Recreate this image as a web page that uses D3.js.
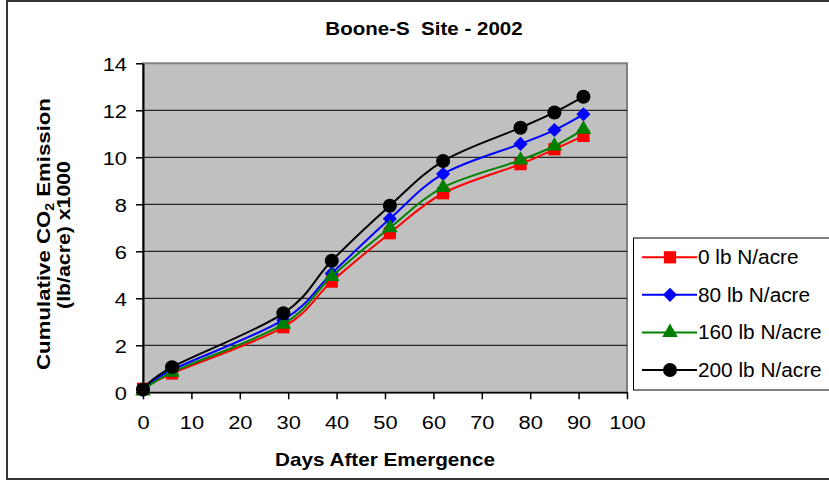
<!DOCTYPE html>
<html>
<head>
<meta charset="utf-8">
<script src="https://cdn.jsdelivr.net/npm/d3@7"></script>
<style>
  body { margin: 0; background: #fff; }
  text { font-family: "Liberation Sans", Arial, sans-serif; }
</style>
</head>
<body>
<svg id="chart" width="829" height="481"></svg>
<script>
// data
const days = [0, 6, 29, 39, 51, 62, 78, 85, 91];
const n0 = [0.15, 0.8, 2.77, 4.71, 6.77, 8.47, 9.71, 10.34, 10.91];
const n80 = [0.1, 0.95, 3.08, 5.06, 7.38, 9.29, 10.57, 11.16, 11.83];
const n160 = [0.05, 0.85, 2.9, 4.93, 7.0, 8.72, 9.88, 10.48, 11.19];
const n200 = [0.12, 1.07, 3.36, 5.6, 7.94, 9.84, 11.26, 11.91, 12.58];
const seriesNames = ['0 lb N/acre', '80 lb N/acre', '160 lb N/acre', '200 lb N/acre'];
const xTicks = [0, 10, 20, 30, 40, 50, 60, 70, 80, 90, 100];
const yTicks = [0, 2, 4, 6, 8, 10, 12, 14];

const series = [
  { name: seriesNames[0], values: n0, color: '#ff0000', shape: 'square' },
  { name: seriesNames[1], values: n80, color: '#0000ff', shape: 'diamond' },
  { name: seriesNames[2], values: n160, color: '#008000', shape: 'triangle' },
  { name: seriesNames[3], values: n200, color: '#000000', shape: 'circle' }
];

const svg = d3.select('#chart');
const plotLeft = 143, plotRight = 627, plotTop = 63.3, plotBottom = 392.3;

// the original font is wider than Arial, so stretch text a bit
function stretch (sel, k) {
  sel.attr('transform', function () {
    const t = this.getAttribute('transform') || '';
    return t + ' scale(' + k + ',1)';
  });
}

function symbolPath (shape) {
  if (shape === 'square') return d3.symbol(d3.symbolSquare, 150)();
  if (shape === 'diamond') return d3.symbol(d3.symbolSquare, 100)();
  if (shape === 'triangle') return d3.symbol(d3.symbolTriangle, 105)();
  return d3.symbol(d3.symbolCircle, 155)();
}

// outer frame
svg.append('rect')
  .attr('x', 7).attr('y', 1).attr('width', 840).attr('height', 478)
  .attr('fill', '#fff').attr('stroke', '#333').attr('stroke-width', 2);

const xScale = d3.scaleLinear().domain([0, 100]).range([plotLeft, plotRight]);
const yScale = d3.scaleLinear().domain([0, 14]).range([plotBottom, plotTop]);

// plot area
svg.append('rect')
  .attr('x', plotLeft).attr('y', plotTop)
  .attr('width', plotRight - plotLeft).attr('height', plotBottom - plotTop)
  .attr('fill', '#c0c0c0').attr('stroke', '#808080').attr('stroke-width', 2);

// gridlines
svg.append('g')
  .selectAll('line')
  .data(yTicks.filter(function (d) { return d > 0 && d < 14; }))
  .enter().append('line')
  .attr('x1', plotLeft).attr('x2', plotRight)
  .attr('y1', function (d) { return yScale(d); })
  .attr('y2', function (d) { return yScale(d); })
  .attr('stroke', '#000').attr('stroke-width', 1);

// axes
const gx = svg.append('g')
  .attr('transform', 'translate(0,' + plotBottom + ')')
  .call(d3.axisBottom(xScale).tickValues(xTicks).tickSize(7).tickSizeOuter(0));
gx.select('.domain').attr('stroke', '#000').attr('stroke-width', 1.5);
gx.selectAll('.tick line').attr('stroke', '#000').attr('stroke-width', 1.5);
gx.selectAll('.tick text')
  .attr('y', 37).attr('dy', null)
  .attr('font-size', 19).attr('fill', '#000')
  .style('font-family', '"Liberation Sans", Arial, sans-serif')
  .call(stretch, 1.15);

const gy = svg.append('g')
  .attr('transform', 'translate(' + plotLeft + ',0)')
  .call(d3.axisLeft(yScale).tickValues(yTicks).tickSize(7).tickSizeOuter(0));
gy.select('.domain').attr('stroke', '#000').attr('stroke-width', 2);
gy.selectAll('.tick line').attr('stroke', '#000').attr('stroke-width', 1.5);
gy.selectAll('.tick text')
  .attr('x', -16 / 1.15).attr('dy', '0.36em')
  .attr('font-size', 19).attr('fill', '#000')
  .style('font-family', '"Liberation Sans", Arial, sans-serif')
  .call(stretch, 1.15);

// series lines and markers
const line = d3.line()
  .x(function (d) { return xScale(d[0]); })
  .y(function (d) { return yScale(d[1]); })
  .curve(d3.curveCardinal.tension(0));

series.forEach(function (s) {
  const pts = days.map(function (d, i) { return [d, s.values[i]]; });
  svg.append('path')
    .datum(pts)
    .attr('d', line)
    .attr('fill', 'none')
    .attr('stroke', s.color)
    .attr('stroke-width', 2);
  svg.append('g')
    .selectAll('path')
    .data(pts)
    .enter().append('path')
    .attr('d', symbolPath(s.shape))
    .attr('transform', function (d) {
      return 'translate(' + xScale(d[0]) + ',' + yScale(d[1]) + ')' + (s.shape === 'diamond' ? ' rotate(45)' : '');
    })
    .attr('fill', s.color);
});

// title
svg.append('text')
  .attr('transform', 'translate(424,35)')
  .attr('text-anchor', 'middle')
  .attr('font-size', 17.7).attr('font-weight', 'bold')
  .style('white-space', 'pre')
  .text('Boone-S  Site - 2002')
  .call(stretch, 1.16);

// x axis title
svg.append('text')
  .attr('transform', 'translate(385,466)')
  .attr('text-anchor', 'middle')
  .attr('font-size', 18).attr('font-weight', 'bold')
  .text('Days After Emergence')
  .call(stretch, 1.15);

// y axis title, two lines
const yt1 = svg.append('text')
  .attr('transform', 'translate(50,234) rotate(-90) scale(1.17,1)')
  .attr('text-anchor', 'middle')
  .attr('font-size', 19).attr('font-weight', 'bold');
yt1.append('tspan').text('Cumulative CO');
yt1.append('tspan').attr('font-size', 12).attr('dy', 4).text('2');
yt1.append('tspan').attr('dy', -4).text(' Emission');

svg.append('text')
  .attr('transform', 'translate(70,235) rotate(-90) scale(1.12,1)')
  .attr('text-anchor', 'middle')
  .attr('font-size', 19).attr('font-weight', 'bold')
  .text('(lb/acre) x1000');

// legend
const legend = svg.append('g');
legend.append('rect')
  .attr('x', 633.5).attr('y', 238).attr('width', 220).attr('height', 152)
  .attr('fill', '#fff').attr('stroke', '#000').attr('stroke-width', 1);

const rowY = d3.scalePoint().domain(seriesNames).range([257.3, 370]);
series.forEach(function (s) {
  const cy = rowY(s.name);
  legend.append('line')
    .attr('x1', 642).attr('x2', 697)
    .attr('y1', cy).attr('y2', cy)
    .attr('stroke', s.color).attr('stroke-width', 2);
  legend.append('path')
    .attr('d', symbolPath(s.shape))
    .attr('transform', 'translate(670,' + cy + ')' + (s.shape === 'diamond' ? ' rotate(45)' : ''))
    .attr('fill', s.color);
  legend.append('text')
    .attr('transform', 'translate(698,' + (cy + 7) + ')')
    .attr('font-size', 20)
    .text(s.name)
    .call(stretch, 1.04);
});
</script>
</body>
</html>
